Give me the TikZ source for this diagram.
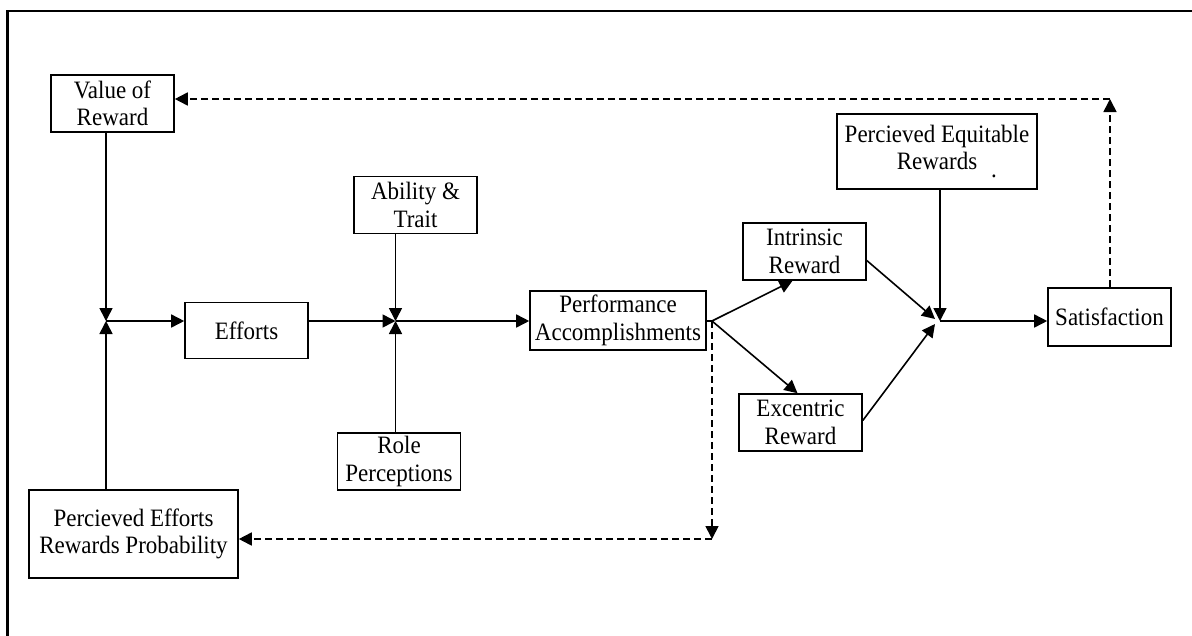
\documentclass[tikz,border=0pt]{standalone}
\usepackage{fontspec}
\setmainfont{Liberation Serif}[FakeStretch=0.92]
\usetikzlibrary{arrows.meta,calc}
\tikzset{
  box/.style={draw, line width=1.6pt, align=center, inner sep=0pt, font=\fontsize{25}{27.5}\selectfont},
  arr/.style={line width=1.6pt, -{Triangle[length=13pt,width=13pt]}},
  darr/.style={line width=1.7pt, dash pattern=on 7pt off 4pt, -{Triangle[length=13pt,width=13pt]}},
}
\begin{document}
\begin{tikzpicture}[x=1pt,y=-1pt]
\useasboundingbox (0,0) rectangle (1192,635);
\fill[white] (0,0) rectangle (1192,635);
\draw[line width=2.5pt] (7.5,640) -- (7.5,11) -- (1200,11);
% nodes
\node[box, minimum width=123pt, minimum height=57pt] (vor) at (112.5,103.5) {Value of\\Reward};
\node[box, minimum width=123pt, minimum height=56pt] (eff) at (246.5,330.5) {Efforts};
\node[box, minimum width=123pt, minimum height=57pt] (abi) at (415.5,205) {Ability \&\\Trait};
\node[box, minimum width=123pt, minimum height=57pt] (role) at (399,461.5) {Role\\Perceptions};
\node[box, minimum width=209pt, minimum height=88pt] (pep) at (133.5,534) {Percieved Efforts\\Rewards Probability};
\node[box, minimum width=176pt, minimum height=59pt] (perf) at (618,320.5) {Performance\\Accomplishments};
\node[box, minimum width=123pt, minimum height=57pt] (intr) at (804.5,251.5) {Intrinsic\\Reward};
\node[box, minimum width=123pt, minimum height=57pt] (exc) at (800.5,422.5) {Excentric\\Reward};
\node[box, minimum width=200pt, minimum height=75pt] (per) at (937,151.5) {Percieved Equitable\\Rewards\rlap{\hspace{14pt}\raisebox{-8pt}{.}}};
\node[box, minimum width=123pt, minimum height=58pt] (sat) at (1109.5,317) {Satisfaction};
% junctions
\coordinate (j1) at (106,321);
\coordinate (j2) at (395.5,321);
\coordinate (b) at (712,321);
\coordinate (j3) at (940,321);
\coordinate (c1) at (1110,99);
\coordinate (c2) at (712,539);
% solid connectors
\draw[arr] (j1 |- vor.south) -- (j1);
\draw[arr] (j1 |- pep.north) -- (j1);
\draw[arr] (j1) -- (eff.west |- j1);
\draw[arr] (eff.east |- j2) -- (j2);
\draw[arr] (j2 |- abi.south) -- (j2);
\draw[arr] (j2 |- role.north) -- (j2);
\draw[arr] (j2) -- (perf.west |- j2);
\draw[line width=1.6pt] (perf.east |- b) -- (b);
\draw[arr] (b) -- ([xshift=-12pt]intr.south);
\draw[arr] (b) -- ([xshift=-3pt]exc.north);
\draw[arr] ([yshift=-9pt]intr.east) -- ([xshift=-5pt,yshift=2pt]j3);
\draw[arr] ([yshift=2pt]exc.east) -- ([xshift=-5pt,yshift=-3pt]j3);
\draw[arr] (j3 |- per.south) -- (j3);
\draw[arr] (j3) -- (sat.west |- j3);
% dashed feedback
\draw[darr] (c1 |- sat.north) -- (c1);
\draw[darr] (c1) -- (vor.east |- c1);
\draw[darr] (b) -- (c2);
\draw[darr] (c2) -- (pep.east |- c2);
\end{tikzpicture}
\end{document}
